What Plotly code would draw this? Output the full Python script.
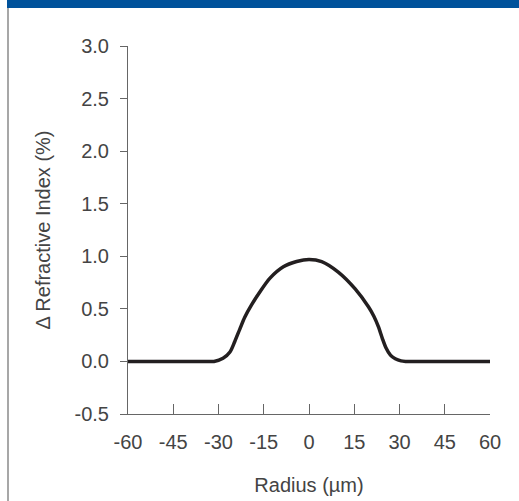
import plotly.graph_objects as go

# Data
radius_um = [-60, -45, -36, -33.5, -31.5, -28.5, -26.2, -24.6, -22.9, -21.3, -19.0, -16.3, -13.0,
             -8.5, -4.1, 0.0, 4.2, 9.7, 15.3, 19.7, 21.5, 23.0, 24.3, 25.5, 27.0, 28.6, 30.5, 32.0,
             34, 36, 45, 60]
delta_n_pct = [0.0, 0.0, 0.0, 0.0, 0.0, 0.03, 0.09, 0.19, 0.31, 0.42, 0.54, 0.66, 0.79,
               0.90, 0.95, 0.97, 0.95, 0.85, 0.69, 0.52, 0.43, 0.33, 0.22, 0.13, 0.06, 0.025, 0.005, 0.0,
               0.0, 0.0, 0.0, 0.0]

x_ticks = [-60, -45, -30, -15, 0, 15, 30, 45, 60]
y_ticks = [-0.5, 0.0, 0.5, 1.0, 1.5, 2.0, 2.5, 3.0]

font_family = "Liberation Sans, Arial, sans-serif"
axis_color = "#666666"
text_color = "#444444"

fig = go.Figure()
fig.add_trace(go.Scatter(
    x=radius_um, y=delta_n_pct, mode="lines",
    line=dict(color="#231f20", width=3.5, shape="spline", smoothing=0.8),
    hoverinfo="skip", showlegend=False,
))

fig.update_layout(
    width=519, height=501,
    margin=dict(l=128, r=29, t=46, b=87),
    paper_bgcolor="white", plot_bgcolor="white",
    font=dict(family=font_family, size=20, color=text_color),
    showlegend=False,
    xaxis=dict(
        range=[-60, 60], tickvals=x_ticks, ticktext=[str(v) for v in x_ticks],
        ticks="inside", ticklen=10, tickwidth=1, tickcolor=axis_color,
        showline=True, linecolor=axis_color, linewidth=1,
        showgrid=False, zeroline=False, automargin=False,
        ticklabelstandoff=10,
        tickfont=dict(size=20, color=text_color),
        title=dict(text="Radius (µm)", font=dict(size=20, color=text_color), standoff=25),
    ),
    yaxis=dict(
        range=[-0.5, 3.0], tickvals=y_ticks, ticktext=[f"{v:.1f}" for v in y_ticks],
        ticks="outside", ticklen=7, tickwidth=1, tickcolor=axis_color,
        showline=True, linecolor=axis_color, linewidth=1,
        showgrid=False, zeroline=False, automargin=False,
        ticklabelstandoff=7,
        tickfont=dict(size=20, color=text_color),
        title=dict(text="Δ Refractive Index (%)", font=dict(size=20, color=text_color), standoff=18),
    ),
    shapes=[
        dict(type="rect", xref="paper", yref="paper",
             x0=-121/362, x1=1 + 29/362, y0=1 + 38/368, y1=1 + 46/368,
             fillcolor="#00529b", line=dict(width=0), layer="above"),
        dict(type="line", xref="paper", yref="paper",
             x0=-120/362, x1=-120/362, y0=-87/368, y1=1 + 38/368,
             line=dict(color="#8a8a8a", width=1.5)),
    ],
)

fig.write_html("out.html", config={"displayModeBar": False},
               post_script="document.body.style.margin='0';document.body.style.padding='0';")
